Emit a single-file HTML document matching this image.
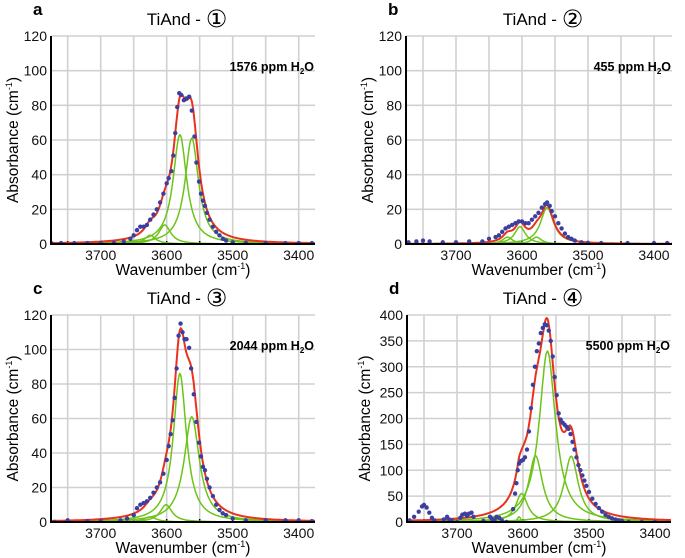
<!DOCTYPE html>
<html><head><meta charset="utf-8"><style>
body{margin:0;background:#fff;}
svg{display:block;font-family:"Liberation Sans","DejaVu Sans",sans-serif;}
</style></head><body>
<svg id="fig" width="685" height="558" viewBox="0 0 685 558"></svg>
<script>
// ---- data ----
const panelLetters = ['a','b','c','d'];
const panelTitles = ['TiAnd - ','TiAnd - ','TiAnd - ','TiAnd - '];
const panelCircled = ['\u2460','\u2461','\u2462','\u2463'];
const panelPpm = ['1576','455','2044','5500'];
const yMaxes = [120,120,120,400];
const yTickSteps = [20,20,20,50];
const xTickLabels = [3700,3600,3500,3400];
const xGrid = [3750,3700,3650,3600,3550,3500,3450,3400];
// components: [center, height, hwhm]
const compsA = [[3580,63,12.5],[3562,61,12.5],[3603,11,11],[3625,5,10]];
const compsB = [[3562,21,12],[3603,10,10],[3622,4,9],[3578,4,9]];
const compsC = [[3580,86,12],[3562,61,14],[3601,10,11],[3625,3,11]];
const compsD = [[3563,330,15],[3581,128,13],[3527,127,13],[3602,55,11],[3606,10,3]];
const dotsA = [[3775,0.5],[3760,0.5],[3740,0.5],[3720,0.5],[3700,0.5],[3680,0.7],[3665,1.5],[3655,3],[3650,5],[3645,8],[3640,10],[3635,10],[3630,11],[3625,14],[3620,17],[3615,20],[3610,24],[3605,29],[3600,35],[3597,38],[3593,42],[3590,51],[3587,64],[3584,79],[3581,87],[3578,86],[3574,83],[3570,84],[3566,85],[3562,77],[3558,62],[3555,47],[3551,36],[3548,29],[3545,25],[3542,22],[3539,18],[3535,14],[3530,10],[3525,7],[3520,5],[3515,3],[3510,2],[3500,1],[3480,0.7],[3450,0.5],[3420,0.5],[3400,0.5],[3380,0.5]];
const dotsB = [[3772,1],[3760,1.5],[3750,2],[3740,1.5],[3720,1],[3700,1],[3680,1.5],[3660,1.5],[3650,3],[3640,4],[3635,5],[3630,7],[3625,9],[3620,10],[3615,11],[3610,12],[3605,13],[3600,13],[3595,12],[3590,12],[3585,14],[3580,16],[3575,18],[3570,21],[3565,23],[3562,24],[3558,22],[3555,19],[3550,16],[3545,12],[3540,9],[3535,6],[3530,4],[3525,3],[3520,2],[3510,1],[3500,0.7],[3480,0.5],[3440,0.5],[3400,0.5],[3380,0.5]];
const dotsC = [[3770,0],[3750,1],[3720,0.5],[3700,0.5],[3670,1],[3660,2],[3650,4],[3645,8],[3640,10],[3635,11],[3630,12],[3625,14],[3620,17],[3615,20],[3610,23],[3605,28],[3600,36],[3597,44],[3594,51],[3591,59],[3588,72],[3585,89],[3582,108],[3579,115],[3576,110],[3573,106],[3570,106],[3566,101],[3563,89],[3559,74],[3555,58],[3551,46],[3548,38],[3545,32],[3542,30],[3539,25],[3535,20],[3530,15],[3525,10],[3520,7],[3515,5],[3510,4],[3500,2],[3480,1],[3450,1],[3420,1],[3400,1],[3380,0.5]];
const dotsD = [[3772,3],[3765,10],[3758,20],[3753,30],[3750,33],[3746,28],[3742,18],[3738,8],[3734,3],[3720,5],[3715,10],[3712,5],[3708,3],[3700,0],[3695,8],[3692,14],[3688,16],[3685,12],[3682,16],[3678,18],[3675,10],[3660,2],[3650,10],[3647,6],[3643,5],[3640,10],[3636,8],[3632,3],[3625,0],[3615,25],[3612,55],[3610,75],[3608,100],[3606,113],[3603,118],[3600,120],[3597,125],[3594,140],[3591,175],[3588,220],[3585,265],[3582,300],[3579,330],[3576,345],[3573,365],[3570,375],[3567,382],[3564,380],[3561,370],[3558,350],[3555,320],[3552,280],[3549,245],[3546,210],[3543,198],[3540,192],[3537,188],[3534,184],[3531,180],[3528,170],[3525,155],[3522,140],[3519,125],[3516,110],[3513,100],[3510,90],[3507,80],[3504,70],[3500,58],[3495,45],[3490,35],[3485,27],[3480,20],[3475,14],[3470,10],[3465,7],[3460,5],[3455,3],[3450,2],[3440,0],[3420,0],[3400,0]];
const compsAll = [compsA,compsB,compsC,compsD];
const dotsAll = [dotsA,dotsB,dotsC,dotsD];
// ---- layout ----
const boxes = [{l:51,r:315,t:36,b:244,px3700:100.7},{l:406,r:672,t:36,b:244,px3700:456},{l:51,r:315,t:315,b:522,px3700:100.7},{l:407,r:671,t:315,b:522,px3700:457}];
const NS='http://www.w3.org/2000/svg';
const svg=document.getElementById('fig');
function mk(tag,attrs,parent){const e=document.createElementNS(NS,tag);for(const k in attrs)e.setAttribute(k,attrs[k]);(parent||svg).appendChild(e);return e;}
function lor(c,x){return c[1]/(1+Math.pow((x-c[0])/c[2],2));}
for(let p=0;p<4;p++){
  const B=boxes[p];const k=0.66;
  const X=v=>B.px3700+(3700-v)*k;
  const Y=v=>B.b-(v/yMaxes[p])*(B.b-B.t);
  const g=mk('g',{});
  
  
  const cp=mk('clipPath',{id:'clip'+p},g);mk('rect',{x:B.l,y:B.t-5,width:B.r-B.l,height:B.b-B.t+5},cp);
  for(let v=0;v<=yMaxes[p];v+=yTickSteps[p]){
    const gl=mk('line',{x1:B.l,x2:B.r,y1:Y(v),y2:Y(v),stroke:'#d0d0d0','stroke-width':1.6},g);
    
    const t=mk('text',{x:B.l-4,y:Y(v)+5,'text-anchor':'end','font-size':14,fill:'#111'},g);t.textContent=v;
    
  }
  for(const v of xGrid){
    const gl=mk('line',{x1:X(v),x2:X(v),y1:B.t,y2:B.b,stroke:'#d0d0d0','stroke-width':1.6},g);
    
    mk('line',{x1:X(v),x2:X(v),y1:B.b-3,y2:B.b+1,stroke:'#000','stroke-width':1.5},g);
  }
  for(const v of xTickLabels){
    const t=mk('text',{x:X(v),y:B.b+16,'text-anchor':'middle','font-size':14,fill:'#111'},g);t.textContent=v;
    
  }
  const comps=compsAll[p];
  const cg=mk('g',{'clip-path':'url(#clip'+p+')'},g);
  const xs=[];for(let x=3780;x>=3370;x-=1)xs.push(x);
  comps.forEach(c=>{
    const d=xs.map((x,i)=>(i?'L':'M')+X(x).toFixed(1)+','+Y(lor(c,x)).toFixed(1)).join('');
    const pa=mk('path',{d:d,fill:'none',stroke:'#6cc417','stroke-width':1.5},cg);
    
  });
  const sd=xs.map((x,i)=>(i?'L':'M')+X(x).toFixed(1)+','+Y(comps.reduce((s,c)=>s+lor(c,x),0)).toFixed(1)).join('');
  const fit=mk('path',{d:sd,fill:'none',stroke:'#e8321e','stroke-width':2},cg);
  
  dotsAll[p].forEach(pt=>{
    const c=mk('circle',{cx:X(pt[0]),cy:Y(pt[1]),r:2.2,fill:'#3a3fa0'},cg);
    
  });
  const ax=mk('path',{d:`M${B.l},${B.t}L${B.l},${B.b}L${B.r},${B.b}`,fill:'none',stroke:'#000','stroke-width':2},g);
  
  const cx=(B.l+B.r)/2;
  const lt=mk('text',{x:B.l-18,y:B.t-21,'font-size':17,'font-weight':'bold',fill:'#000'},g);lt.textContent=panelLetters[p];
  
  const tt=mk('text',{x:cx+4,y:B.t-11,'text-anchor':'middle','font-size':17,fill:'#000'},g);
  tt.innerHTML=panelTitles[p]+'<tspan font-size="24" dy="2">'+panelCircled[p]+'</tspan>';
  
  const an=mk('text',{x:B.r-1,y:B.t+35,'text-anchor':'end','font-size':12.5,'font-weight':'bold',fill:'#000'},g);
  an.innerHTML=panelPpm[p]+' ppm H<tspan font-size="8" dy="3">2</tspan><tspan dy="-3">O</tspan>';
  
  const xl=mk('text',{x:cx,y:B.b+31,'text-anchor':'middle','font-size':15.5,fill:'#000'},g);
  xl.innerHTML='Wavenumber (cm<tspan font-size="9" dy="-6">-1</tspan><tspan dy="6">)</tspan>';
  
  const yx=B.l-(p==3?37:33),yy=(B.t+B.b)/2;
  const yl=mk('text',{x:yx,y:yy,'text-anchor':'middle','font-size':15.5,fill:'#000',transform:`rotate(-90 ${yx} ${yy})`},g);
  yl.innerHTML='Absorbance (cm<tspan font-size="9" dy="-6">-1</tspan><tspan dy="6">)</tspan>';
  
}
</script>
</body></html>
